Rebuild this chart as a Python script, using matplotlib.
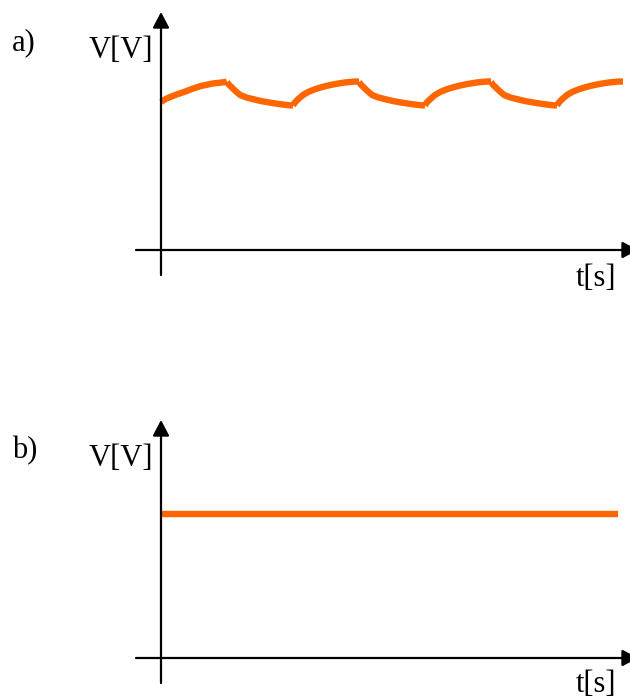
import matplotlib
matplotlib.use("Agg")
import matplotlib.pyplot as plt
import numpy as np

# values: t in half-periods, V with the x axis at 0
first_dt = [0, 0.07, 0.15, 0.25, 0.35, 0.47, 0.6, 0.78, 0.98, 1.0]
first_v = [8.76, 8.93, 9.07, 9.22, 9.35, 9.53, 9.70, 9.85, 9.94, 9.97]
charge_dt = [0, 0.03, 0.08, 0.15, 0.23, 0.33, 0.44, 0.54, 0.64, 0.78, 0.94, 1.0]
charge_v = [8.55, 8.74, 8.93, 9.17, 9.35, 9.51, 9.64, 9.74, 9.82, 9.91, 9.97, 9.97]
discharge_dt = [0, 0.03, 0.08, 0.13, 0.2, 0.29, 0.39, 0.52, 0.65, 0.8, 0.95, 1.0]
discharge_v = [9.94, 9.78, 9.59, 9.40, 9.17, 9.03, 8.93, 8.81, 8.72, 8.63, 8.56, 8.55]
charge_starts = [2, 4, 6]
discharge_starts = [1, 3, 5]

dc_t = [0, 6.92]
dc_v = [8.52, 8.52]

panel_labels = ["a)", "b)"]
y_label = "V[V]"
x_label = "t[s]"

ORANGE = "#FF6600"
W, H = 630, 700
XU, YU = 66.0, 16.9  # pixels per unit
X0 = 161

plt.rcParams["font.family"] = ["Liberation Serif", "DejaVu Serif"]

fig = plt.figure(figsize=(6.3, 7), dpi=100)


def make_panel(origin_y, top_px):
    # axes covering a 300 px band of the figure, origin of the data at (X0, origin_y)
    ax = fig.add_axes([0, 1 - (top_px + 300) / H, 1, 300 / H])
    ax.set_xlim(-X0 / XU, (W - X0) / XU)
    ax.set_ylim((origin_y - (top_px + 300)) / YU, (origin_y - top_px) / YU)
    ax.axis("off")
    arrow = dict(arrowstyle="-|>,head_length=0.95,head_width=0.5", lw=1.6,
                 color="black", shrinkA=0, shrinkB=0, mutation_scale=10)
    ax.annotate("", xy=((638 - X0) / XU, 0), xytext=((136 - X0) / XU, 0),
                arrowprops=arrow, annotation_clip=False)
    ax.annotate("", xy=(0, 238 / YU), xytext=(0, -25 / YU),
                arrowprops=arrow, annotation_clip=False)
    return ax


def put_text(s, x_px, y_px, ha):
    fig.text(x_px / W, 1 - y_px / H, s, ha=ha, va="baseline", fontsize=22)


# a) rectified voltage with ripple
ax1 = make_panel(250, 0)
seg_style = dict(color=ORANGE, lw=4.6, solid_capstyle="butt", solid_joinstyle="round")
ax1.plot(first_dt, first_v, **seg_style)
for s in discharge_starts:
    ax1.plot(np.array(discharge_dt) + s, discharge_v, **seg_style)
for s in charge_starts:
    ax1.plot(np.array(charge_dt) + s, charge_v, **seg_style)

put_text(panel_labels[0], 12, 50, "left")
put_text(y_label, 153, 58, "right")
put_text(x_label, 616, 286, "right")

# b) ideal DC
ax2 = make_panel(658, 400)
ax2.plot(dc_t, dc_v, **seg_style)

put_text(panel_labels[1], 12, 458, "left")
put_text(y_label, 153, 466, "right")
put_text(x_label, 616, 692, "right")

fig.savefig("out.png", dpi=100)
